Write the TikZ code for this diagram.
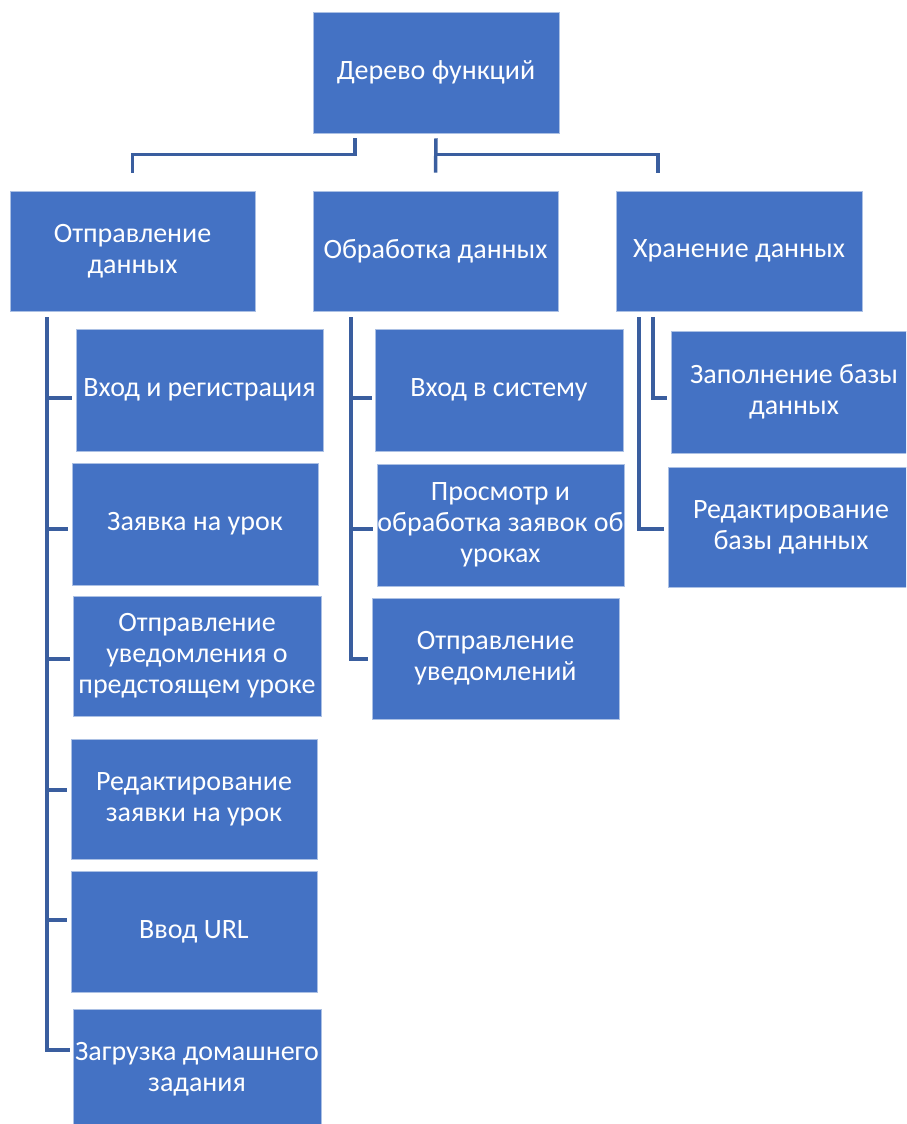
\documentclass[tikz,border=0pt]{standalone}
\usepackage{fontspec}
\setmainfont{Carlito}
\usetikzlibrary{calc}
\definecolor{boxblue}{HTML}{4472C4}
\definecolor{linkblue}{HTML}{3A5E9F}
\tikzset{
  box/.style={rectangle, fill=boxblue, draw=white!55!boxblue, line width=0.8pt,
    text=white, align=center, inner sep=0pt,
    font=\fontsize{28}{31}\selectfont},
  conn/.style={draw=linkblue, line width=3.5pt}
}
\begin{document}
\begin{tikzpicture}[x=1pt,y=-1pt]
  \useasboundingbox (0,0) rectangle (906,1124);
  \fill[white] (0,0) rectangle (906,1124);
  \clip (0,0) rectangle (906,1124);

  % root and first level
  \node[box, minimum width=246pt, minimum height=121pt] (root) at (436,72.5) {Дерево функций};
  \node[box, minimum width=245pt, minimum height=120pt] (send) at (132.5,251) {Отправление\\данных};
  \node[box, minimum width=245pt, minimum height=120pt] (proc) at (435.5,251) {Обработка данных};
  \node[box, minimum width=246pt, minimum height=120pt] (store) at (739,251) {Хранение данных};

  % children of "Отправление данных"
  \node[box, minimum width=247pt, minimum height=122pt] (a1) at (199.5,390) {Вход и регистрация};
  \node[box, minimum width=246pt, minimum height=122pt] (a2) at (195,524) {Заявка на урок};
  \node[box, minimum width=248pt, minimum height=120pt] (a3) at (197,656) {Отправление\\уведомления о\\предстоящем уроке};
  \node[box, minimum width=246pt, minimum height=120pt] (a4) at (194,799) {Редактирование\\заявки на урок};
  \node[box, minimum width=246pt, minimum height=121pt] (a5) at (194,931.5) {Ввод URL};
  \node[box, minimum width=248pt, minimum height=121pt] (a6) at (197,1069.5) {Загрузка домашнего\\задания};

  % children of "Обработка данных"
  \node[box, minimum width=248pt, minimum height=122pt] (b1) at (499,390) {Вход в систему};
  \node[box, minimum width=247pt, minimum height=122pt] (b2) at (500.5,525) {Просмотр и\\обработка заявок об\\уроках};
  \node[box, minimum width=247pt, minimum height=121pt] (b3) at (495.5,658.5) {Отправление\\уведомлений};

  % children of "Хранение данных"
  \node[box, minimum width=246pt, minimum height=122pt] (c1) at (794,392) {Заполнение базы\\данных};
  \node[box, minimum width=246pt, minimum height=120pt] (c2) at (791,527) {Редактирование\\базы данных};

  % root to first level
  \draw[conn] ($(root.south)+(-81,5)$) -- ++(0,16) -| ($(send.north)+(0,-18)$);
  \draw[conn] ($(root.south)+(0,5)$) -- ($(proc.north)+(0,-18)$);
  \draw[conn] ($(root.south)+(0,21)$) -| ($(store.north)+(-81,-18)$);

  % left spine
  \coordinate (sa) at ($(send.south)+(-85.5,6)$);
  \draw[conn] (sa) |- ($(a1.west)+(-4,8)$);
  \draw[conn] (sa) |- ($(a2.west)+(-4,5)$);
  \draw[conn] (sa) |- ($(a3.west)+(-3,3)$);
  \draw[conn] (sa) |- ($(a4.west)+(-4,-9)$);
  \draw[conn] (sa) |- ($(a5.west)+(-4,-11.5)$);
  \draw[conn] (sa) |- ($(a6.west)+(-3,-19.5)$);

  % middle spine
  \coordinate (sb) at ($(proc.south)+(-84.5,6)$);
  \draw[conn] (sb) |- ($(b1.west)+(-3,8)$);
  \draw[conn] (sb) |- ($(b2.west)+(-4,4)$);
  \draw[conn] (sb) |- ($(b3.west)+(-4,0.5)$);

  % right spines
  \draw[conn] ($(store.south)+(-86,6)$) |- ($(c1.west)+(-4,6)$);
  \draw[conn] ($(store.south)+(-100,6)$) |- ($(c2.west)+(-4,2)$);
\end{tikzpicture}
\end{document}
